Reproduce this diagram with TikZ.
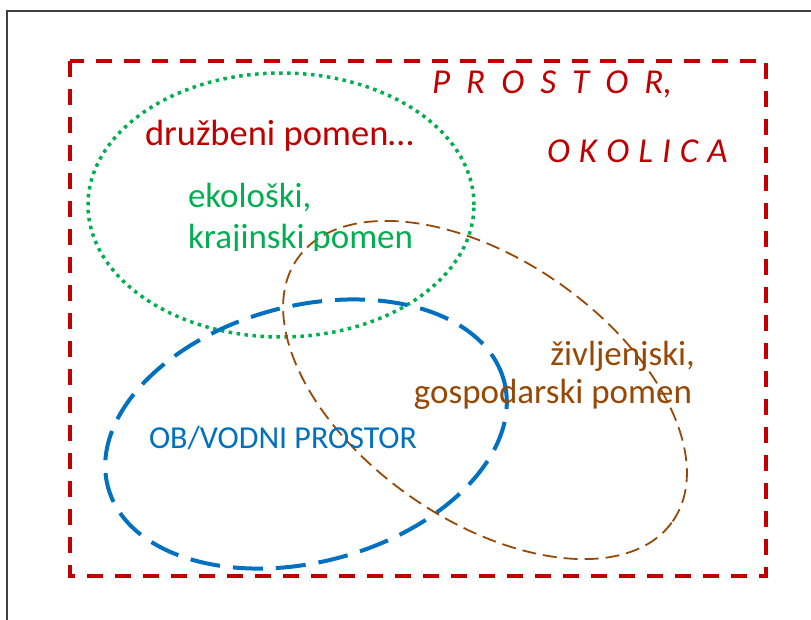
\documentclass[tikz,border=0pt]{standalone}
\usepackage{fontspec}
\setmainfont{Carlito}
\definecolor{cred}{HTML}{C00000}
\definecolor{cgreen}{HTML}{00B050}
\definecolor{cblue}{HTML}{0070C0}
\definecolor{cbrown}{HTML}{984806}
\definecolor{cframe}{HTML}{404040}
\tikzset{
  txt/.style={inner sep=0pt, outer sep=0pt, font=\fontsize{35}{40}\selectfont},
  redbox/.style={draw=cred, line width=4pt, dash pattern=on 16pt off 12pt},
  greenell/.style={draw=cgreen, line width=3.5pt, dash pattern=on 3.5pt off 4.5pt},
  blueell/.style={draw=cblue, line width=4pt, dash pattern=on 30pt off 13pt},
  brownell/.style={draw=cbrown, line width=1.8pt, dash pattern=on 14pt off 7pt},
}
\begin{document}
\begin{tikzpicture}[x=1pt,y=1pt]
\useasboundingbox (0,0) rectangle (811,-619);
% outer frame
\draw[cframe, line width=1.5pt] (7,-640) -- (7,-11) -- (830,-11);
% red dashed box
\draw[redbox] (70,-61) rectangle (766,-576);
% ellipses
\draw[greenell] (281,-205) ellipse [x radius=193, y radius=132];
\draw[blueell, rotate around={15:(306,-434)}] (306,-434) ellipse [x radius=205, y radius=128];
\draw[brownell, rotate around={-35:(485,-390)}] (485,-390) ellipse [x radius=229, y radius=130];
% texts
\node[txt, anchor=base west, text=cred, font=\fontsize{36.5}{40}\selectfont] (druz) at (145,-145) {družbeni pomen…};
\node[txt, anchor=base west, text=cgreen] (eko) at (188,-207) {ekološki,};
\begin{scope}
\clip (150,-150) rectangle (450,-250.5);
\node[txt, anchor=base west, text=cgreen] (kraj) at (188,-248) {krajinski pomen};
\end{scope}
\node[txt, anchor=base west, text=cred, font=\fontsize{35}{40}\selectfont\itshape] (pros) at (432,-93) {\spaceskip=0.46em\relax P R O S T O R,};
\node[txt, anchor=base west, text=cred, font=\fontsize{35}{40}\selectfont\itshape] (okol) at (547,-162) {\spaceskip=0.26em\relax O K O L I C A};
\node[txt, anchor=base east, text=cbrown] (ziv) at (695,-365) {življenjski,};
\node[txt, anchor=base east, text=cbrown] (gosp) at (692,-403) {gospodarski pomen};
\node[txt, anchor=base west, text=cblue, font=\fontsize{32}{36}\selectfont] (ob) at (149,-448) {OB/VODNI PROSTOR};
\end{tikzpicture}
\end{document}
